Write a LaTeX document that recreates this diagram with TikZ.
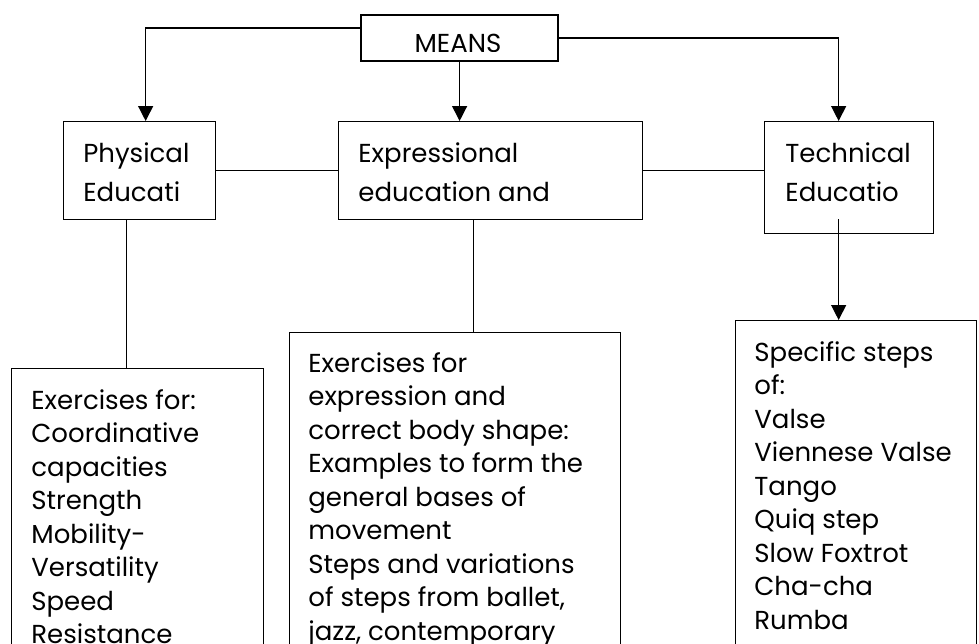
\documentclass[tikz,border=0pt]{standalone}
\usepackage{fontspec}
\setmainfont{Poppins}
\usetikzlibrary{positioning,calc,arrows.meta}
\tikzstyle{box} = [draw,line width=0.65pt,inner sep=0pt,anchor=north west]
\tikzstyle{line} = [draw,line width=0.65pt]
\tikzstyle{arr} = [line,-{Triangle[length=7.5pt,width=7.5pt]}]
\tikzstyle{txt} = [inner sep=0pt,anchor=north west,align=left,execute at begin node=\strut,
  font=\fontsize{13}{16.75}\selectfont,yshift=8.6pt]
\tikzstyle{head} = [txt,font=\fontsize{13}{19.5}\selectfont]

\begin{document}
\begin{tikzpicture}[x=0.5pt,y=-0.5pt]
\useasboundingbox (0,0) rectangle (979,643);
\clip (0,0) rectangle (979,643);
% boxes
\node[box,line width=1.1pt,minimum width=98.5pt,minimum height=23pt] (means) at (360,14) {};
\node[box,minimum width=76pt,minimum height=49pt] (phys) at (63,121) {};
\node[box,minimum width=152pt,minimum height=49pt] (expr) at (338,121) {};
\node[box,minimum width=84.5pt,minimum height=56pt] (tech) at (764,121) {};
\node[box,minimum width=126pt,minimum height=200pt] (pbot) at (11,368) {};
\node[box,minimum width=165.5pt,minimum height=200pt] (ebot) at (289,332) {};
\node[box,minimum width=120.5pt,minimum height=200pt] (tbot) at (735,320) {};
% texts
\begin{scope}
  \clip (means.north west) rectangle ([yshift=5.5pt]means.south east);
  \node[inner sep=0pt,anchor=base,font=\fontsize{13}{16.75}\selectfont] (meanslbl) at (458,52) {MEANS};
\end{scope}
\node[head] (physlbl) at (83,160) {Physical\\Educati};
\node[head] (exprlbl) at (358,160) {Expressional\\education and};
\node[head] (techlbl) at (785,160) {Technical\\Educatio};
\node[txt] (pbotlbl) at (31,406) {Exercises for:\\Coordinative\\capacities\\Strength\\Mobility-\\Versatility\\Speed\\Resistance};
\node[txt] (ebotlbl) at (308,369) {Exercises for\\expression and\\correct body shape:\\Examples to form the\\general bases of\\movement\\Steps and variations\\of steps from ballet,\\jazz, contemporary};
\node[txt] (tbotlbl) at (754,358) {Specific steps\\of:\\Valse\\Viennese Valse\\Tango\\Quiq step\\Slow Foxtrot\\Cha-cha\\Rumba};
% connectors
\draw[arr] ([yshift=5pt]means.west) -| ([xshift=3pt]phys.north);
\draw[arr] (means.east) -| ([xshift=-5.25pt]tech.north);
\draw[arr] (means.south) -- (means.south |- expr.north);
\draw[line] (phys.east) -- (expr.west);
\draw[line] (expr.east) -- (expr.east -| tech.west);
\draw[line] ([xshift=-6.5pt]phys.south) -- ([xshift=-6.5pt]phys.south |- pbot.north);
\draw[line] ([xshift=-8.5pt]expr.south) -- ([xshift=-8.5pt]expr.south |- ebot.north);
\draw[arr] ([xshift=-5.25pt,yshift=7.5pt]tech.south) -- ([xshift=-5.25pt]tech.south |- tbot.north);
\end{tikzpicture}
\end{document}
